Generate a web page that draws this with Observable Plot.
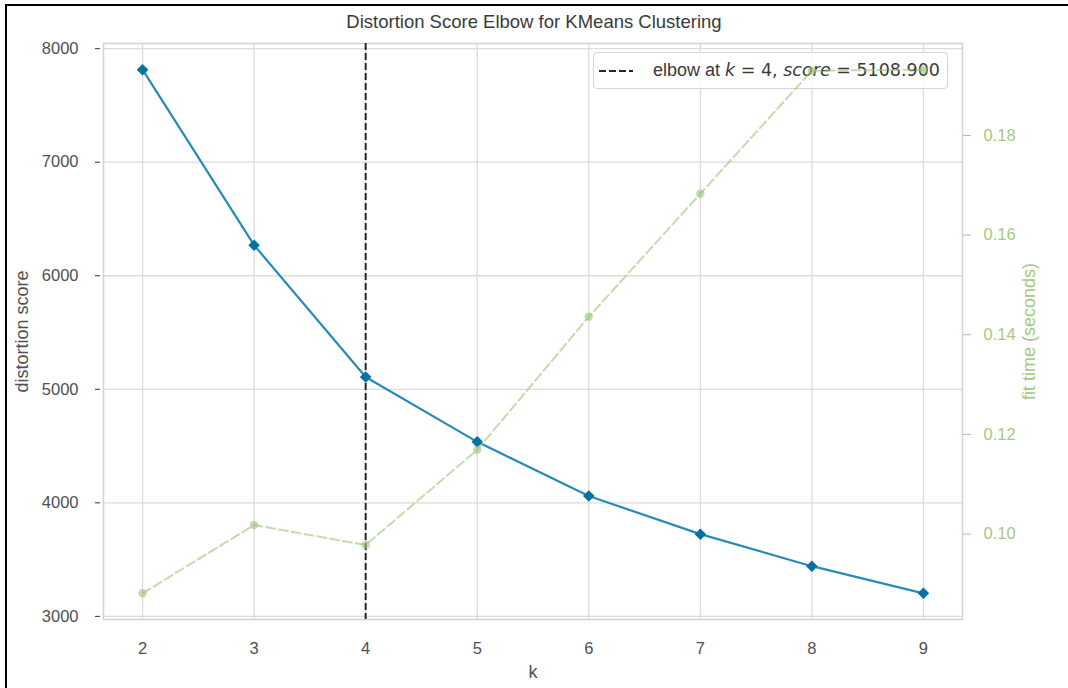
<!DOCTYPE html>
<html>
<head>
<meta charset="utf-8">
<script src="https://cdn.jsdelivr.net/npm/d3@7"></script>
<script src="https://cdn.jsdelivr.net/npm/@observablehq/plot@0.6"></script>
<style>
  html, body { margin: 0; padding: 0; background: #fff; }
  #chart { position: relative; width: 1068px; height: 688px; overflow: hidden; font-family: "Liberation Sans", Arial, sans-serif; }
  #title { height: 34px; box-sizing: border-box; padding-top: 12px; text-align: center; font-size: 18.5px; line-height: 20px; color: #3a3a3a; }
  #plotwrap { position: relative; width: 1068px; height: 654px; }
  #plotwrap > svg { position: absolute; left: 0; top: 0; background: transparent; }
  #legend { position: absolute; left: 593px; top: 18px; width: 355px; height: 37px; box-sizing: border-box;
            border: 1px solid #d4d4d4; border-radius: 4px; background: rgba(255,255,255,0.8); }
  #legend svg { position: absolute; left: 5px; top: 13px; }
  #legend .txt { position: absolute; left: 59px; top: 7px; font-size: 18px; line-height: 21px; color: #3a3a3a; white-space: nowrap; }
  #legend .m { font-family: "DejaVu Sans", sans-serif; font-size: 17.5px; }
  #border { position: absolute; left: 5px; top: 4px; right: 0; bottom: 0; border-top: 2px solid #000; border-left: 2px solid #000; pointer-events: none; }
</style>
</head>
<body>
<div id="chart">
  <div id="title">Distortion Score Elbow for KMeans Clustering</div>
  <div id="plotwrap"></div>
  <div id="border"></div>
</div>
<script>
// ---- data ----
const ks = [2, 3, 4, 5, 6, 7, 8, 9];
const distortion = [7815, 6269, 5108.9, 4537, 4060, 3724, 3442, 3203];
const fitTime = [0.0881, 0.1018, 0.0978, 0.1169, 0.1436, 0.1683, 0.1930, 0.1932];
const elbowK = 4;
const elbowScore = 5108.900;
const xTicks = [2, 3, 4, 5, 6, 7, 8, 9];
const yTicks = [3000, 4000, 5000, 6000, 7000, 8000];
const timeTicks = [0.10, 0.12, 0.14, 0.16, 0.18];

const rows = ks.map((k, i) => ({k, score: distortion[i], time: fitTime[i]}));

// matplotlib-like 5% margins
function pad(min, max) { const r = max - min; return [min - 0.05 * r, max + 0.05 * r]; }
const xDomain = pad(d3.min(ks), d3.max(ks));
const yDomain = pad(d3.min(distortion), d3.max(distortion));
const tDomain = pad(d3.min(fitTime), d3.max(fitTime));
const tmap = d3.scaleLinear(tDomain, yDomain); // twin axis: time -> distortion coords

const blue = "#0272a2";
const green = "#9fc377";

const common = {
  width: 1068, height: 654,
  marginLeft: 103, marginRight: 106, marginTop: 9, marginBottom: 69,
  style: {fontFamily: '"Liberation Sans", Arial, sans-serif', background: "transparent"}
};

const basePlot = Plot.plot({
  ...common,
  x: {domain: xDomain},
  y: {domain: yDomain},
  marks: [
    Plot.gridX(xTicks, {stroke: "#dcdcdc", strokeOpacity: 1, strokeWidth: 1.3}),
    Plot.gridY(yTicks, {stroke: "#dcdcdc", strokeOpacity: 1, strokeWidth: 1.3}),
    Plot.frame({stroke: "#d4d4d4", strokeWidth: 1.6}),
    Plot.ruleX([elbowK], {stroke: "#262626", strokeWidth: 2, strokeDasharray: "7,3"}),
    Plot.line(rows, {x: "k", y: "score", stroke: "#2a8ab6", strokeWidth: 2.2}),
    Plot.dot(rows, {x: "k", y: "score", symbol: "diamond2", r: 5.2, fill: blue, stroke: "none"}),
    Plot.axisX({ticks: xTicks, tickSize: 0, tickPadding: 23, fontSize: 16.5, color: "#505050",
                label: "k", labelAnchor: "center", labelOffset: 58, labelArrow: "none"}),
    Plot.axisY({ticks: yTicks, tickSize: 0, tickPadding: 25, fontSize: 16.5, color: "#505050", tickFormat: d => String(d),
                label: "distortion score", labelAnchor: "center", labelOffset: 88, labelArrow: "none"}),
    Plot.axisY({ticks: yTicks, tickSize: 5, dx: -3, tickFormat: () => "", label: null, stroke: "#333"}),
    Plot.axisY({anchor: "right", ticks: timeTicks.map(tmap), tickFormat: d => tmap.invert(d).toFixed(2),
                tickSize: 8, tickPadding: 13, fontSize: 16.5, color: "#a4c985",
                label: "fit time (seconds)", labelAnchor: "center", labelOffset: 72, labelArrow: "none"})
  ]
});

// axis titles are larger than Plot's default label size
d3.select(basePlot).selectAll('g[aria-label$="axis label"]').attr("font-size", 18).style("font-size", "18px");

const overPlot = Plot.plot({
  ...common,
  x: {domain: xDomain, axis: null},
  y: {domain: yDomain, axis: null},
  marks: [
    Plot.line(rows, {x: "k", y: d => tmap(d.time), stroke: green, strokeOpacity: 0.6, strokeWidth: 2, strokeDasharray: "9,4"}),
    Plot.dot(rows, {x: "k", y: d => tmap(d.time), r: 4.2, fill: green, fillOpacity: 0.6, stroke: "none"})
  ]
});

const wrap = document.getElementById("plotwrap");
wrap.appendChild(basePlot);

const legend = document.createElement("div");
legend.id = "legend";
legend.innerHTML = `<svg width="34" height="10"><line x1="0" x2="34" y1="5" y2="5" stroke="#262626" stroke-width="2" stroke-dasharray="7,3"/></svg>` +
  `<span class="txt">elbow at <span class="m"><i>k</i> = ${elbowK}, <i>score</i> = ${elbowScore.toFixed(3)}</span></span>`;
wrap.appendChild(legend);
wrap.appendChild(overPlot);
</script>
</body>
</html>
